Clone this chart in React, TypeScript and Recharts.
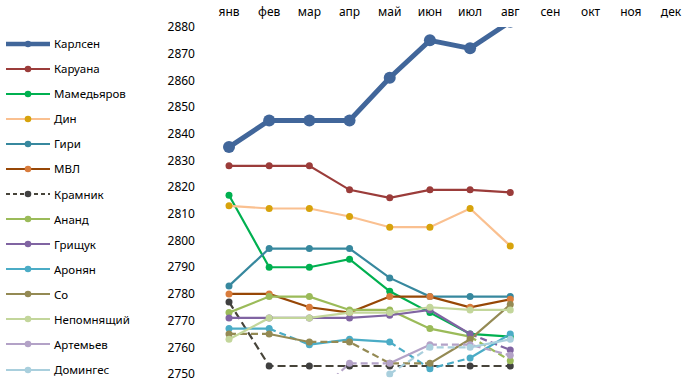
import React from 'react';
import { LineChart, Line, XAxis, YAxis, Legend } from 'recharts';

const months = ['янв', 'фев', 'мар', 'апр', 'май', 'июн', 'июл', 'авг', 'сен', 'окт', 'ноя', 'дек'];
const yTicks = [2750, 2760, 2770, 2780, 2790, 2800, 2810, 2820, 2830, 2840, 2850, 2860, 2870, 2880];

const carlsen = [2835, 2845, 2845, 2845, 2861, 2875, 2872, 2882];
const caruana = [2828, 2828, 2828, 2819, 2816, 2819, 2819, 2818];
const mamedyarov = [2817, 2790, 2790, 2793, 2781, 2773, 2765, 2764];
const ding = [2813, 2812, 2812, 2809, 2805, 2805, 2812, 2798];
const giri = [2783, 2797, 2797, 2797, 2786, 2779, 2779, 2779];
const mvl = [2780, 2780, 2775, 2773, 2779, 2779, 2775, 2778];
const kramnik = [2777, 2753, 2753, 2753, 2753, 2753, 2753, 2753];
const anand = [2773, 2779, 2779, 2774, 2774, 2767, 2764, 2755];
const grischuk = [2771, 2771, 2771, 2771, 2772, 2774, 2765, 2759];
const aronian = [2767, 2767, 2761, 2763, 2762, 2752, 2756, 2765];
const so = [2765, 2765, 2762, 2762, 2754, 2754, 2763, 2776];
const nepo = [2763, 2771, 2771, 2773, 2773, 2775, 2774, 2774];
const artemiev = [null, null, 2740, 2754, 2754, 2761, 2761, 2757];
const domingues = [null, null, null, null, 2750, 2760, 2760, 2763];

// per-segment dash flags (segment i joins month i and i+1)
const solid7 = [0, 0, 0, 0, 0, 0, 0];
const kramnikDash = [1, 1, 1, 1, 1, 1, 1];
const anandDash = [0, 0, 0, 0, 0, 0, 1];
const grischukDash = [0, 0, 0, 0, 0, 0, 1];
const aronianDash = [0, 1, 0, 0, 1, 1, 0];
const soDash = [1, 0, 1, 1, 1, 0, 0];
const artemievDash = [1, 1, 1, 1, 0, 1, 1];
const dominguesDash = [1, 1, 1, 1, 1, 1, 0];

type Player = {
  key: string;
  name: string;
  values: (number | null)[];
  dash: number[];
  line: string;
  marker: string;
  width: number;
  r: number;
  clip?: boolean;
};

const players: Player[] = [
  { key: 'carlsen', name: 'Карлсен', values: carlsen, dash: solid7, line: '#41669A', marker: '#41669A', width: 5, r: 6, clip: true },
  { key: 'caruana', name: 'Каруана', values: caruana, dash: solid7, line: '#9B3C3A', marker: '#9B3C3A', width: 2.2, r: 3.5 },
  { key: 'mamedyarov', name: 'Мамедьяров', values: mamedyarov, dash: solid7, line: '#00B050', marker: '#00B050', width: 2.2, r: 3.5 },
  { key: 'ding', name: 'Дин', values: ding, dash: solid7, line: '#FAC090', marker: '#D7A30C', width: 2.2, r: 3.5 },
  { key: 'giri', name: 'Гири', values: giri, dash: solid7, line: '#37889E', marker: '#37889E', width: 2.2, r: 3.5 },
  { key: 'mvl', name: 'МВЛ', values: mvl, dash: solid7, line: '#974706', marker: '#D97C3C', width: 2.2, r: 3.5 },
  { key: 'kramnik', name: 'Крамник', values: kramnik, dash: kramnikDash, line: '#47443A', marker: '#404040', width: 2.2, r: 3.5 },
  { key: 'anand', name: 'Ананд', values: anand, dash: anandDash, line: '#9BBB59', marker: '#9BBB59', width: 2.2, r: 3.5 },
  { key: 'grischuk', name: 'Грищук', values: grischuk, dash: grischukDash, line: '#8064A2', marker: '#8064A2', width: 2.2, r: 3.5 },
  { key: 'aronian', name: 'Аронян', values: aronian, dash: aronianDash, line: '#4BACC6', marker: '#4BACC6', width: 2.2, r: 3.5 },
  { key: 'so', name: 'Со', values: so, dash: soDash, line: '#948A54', marker: '#948A54', width: 2.2, r: 3.5 },
  { key: 'nepo', name: 'Непомнящий', values: nepo, dash: solid7, line: '#C3D69B', marker: '#C3D69B', width: 2.2, r: 3.5 },
  { key: 'artemiev', name: 'Артемьев', values: artemiev, dash: artemievDash, line: '#B3A2C7', marker: '#B3A2C7', width: 2.2, r: 3.5 },
  { key: 'domingues', name: 'Домингес', values: domingues, dash: dominguesDash, line: '#A9CFDD', marker: '#A9CFDD', width: 2.2, r: 3.5 },
];

type Run = { a: number; b: number; dashed: boolean };
const runsOf = (p: Player): Run[] => {
  const runs: Run[] = [];
  for (let i = 0; i < p.values.length - 1; i++) {
    if (p.values[i] == null || p.values[i + 1] == null) continue;
    const dashed = !!p.dash[i];
    const last = runs[runs.length - 1];
    if (last && last.b === i && last.dashed === dashed) last.b = i + 1;
    else runs.push({ a: i, b: i + 1, dashed });
  }
  return runs;
};

const playerRuns = players.map((p) => runsOf(p));

const rows = months.map((m, i) => {
  const row: Record<string, any> = { month: m };
  players.forEach((p, pi) => {
    const v = p.values[i];
    if (v != null) {
      row[p.key] = v;
      playerRuns[pi].forEach((run, ri) => {
        if (i >= run.a && i <= run.b) row[`${p.key}_${ri}`] = v;
      });
    }
  });
  return row;
});

const FONT = '"Noto Sans", sans-serif';

const renderLegend = () => (
  <div style={{ fontFamily: FONT, fontSize: 11.5, color: '#000', width: 165, boxSizing: 'border-box' }}>
    {players.map((p) => (
      <div key={p.key} style={{ display: 'flex', alignItems: 'center', height: 25.08 }}>
        <svg width={54} height={14} style={{ display: 'block', flex: '0 0 auto' }}>
          <line
            x1={6}
            x2={50}
            y1={7}
            y2={7}
            stroke={p.line}
            strokeWidth={p.key === 'carlsen' ? 4.5 : 2}
            strokeDasharray={p.key === 'kramnik' ? '4 3' : undefined}
          />
          <circle cx={28} cy={7} r={p.key === 'carlsen' ? 3.2 : 3.3} fill={p.marker} />
        </svg>
        <span style={{ whiteSpace: 'nowrap' }}>{p.name}</span>
      </div>
    ))}
  </div>
);

export default function App() {
  const lines: React.ReactNode[] = [];
  players.forEach((p, pi) => {
    playerRuns[pi].forEach((run, ri) => {
      lines.push(
        <Line
          key={`${p.key}_${ri}`}
          dataKey={`${p.key}_${ri}`}
          type="linear"
          stroke={p.line}
          strokeWidth={p.width}
          strokeDasharray={run.dashed ? (p.key === 'kramnik' ? '8 4' : '7 4') : undefined}
          dot={false}
          activeDot={false}
          legendType="none"
          isAnimationActive={false}
        />
      );
    });
    lines.push(
      <Line
        key={`${p.key}_dots`}
        dataKey={p.key}
        name={p.name}
        type="linear"
        stroke="none"
        strokeWidth={0}
        dot={{ r: p.r, fill: p.marker, stroke: p.marker, strokeWidth: 0, clipDot: !!p.clip }}
        activeDot={false}
        isAnimationActive={false}
      />
    );
  });

  return (
    <div style={{ position: 'absolute', left: 0, top: 0, background: '#fff' }}>
      <LineChart width={698} height={388} data={rows} margin={{ top: 0, right: 7, bottom: 14, left: 0 }}>
        <XAxis
          dataKey="month"
          orientation="top"
          height={27}
          axisLine={false}
          tickLine={false}
          tickMargin={5}
          interval={0}
          padding={{ left: 20, right: 20 }}
          tick={{ fontFamily: FONT, fontSize: 12, fill: '#000' }}
        />
        <YAxis
          domain={[2750, 2880]}
          ticks={yTicks}
          allowDataOverflow
          width={44}
          axisLine={false}
          tickLine={false}
          tickMargin={8}
          interval={0}
          tick={{ fontFamily: FONT, fontSize: 12, fill: '#000' }}
        />
        <Legend
          layout="vertical"
          align="left"
          verticalAlign="top"
          content={renderLegend}
          wrapperStyle={{ width: 165, left: 0, top: 31, margin: 0, padding: 0 }}
        />
        {lines}
      </LineChart>
    </div>
  );
}
